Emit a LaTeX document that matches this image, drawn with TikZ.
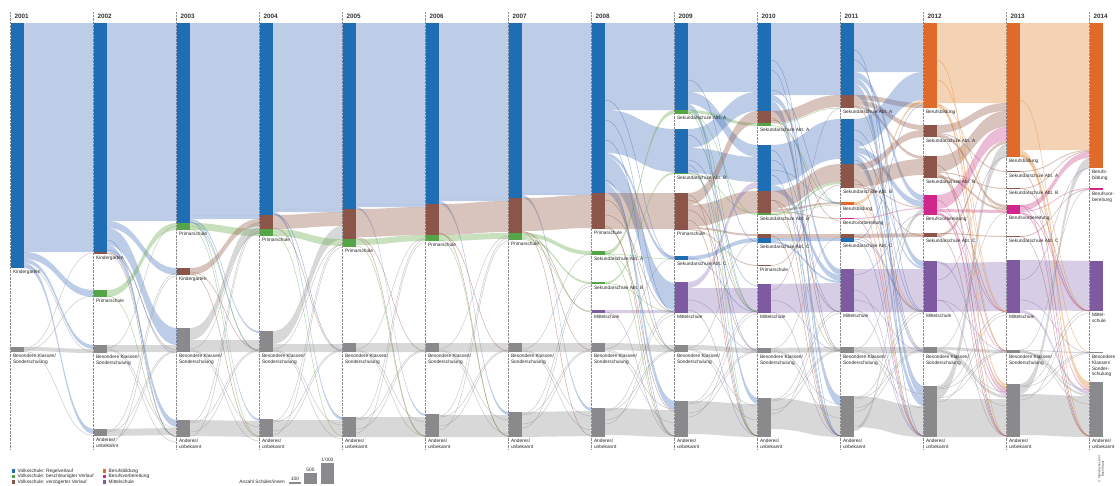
\documentclass[tikz,border=0pt]{standalone}
\usepackage{fontspec}
\setmainfont{Liberation Sans}
\definecolor{colB}{HTML}{1F6EB4}
\definecolor{colG}{HTML}{55A548}
\definecolor{colR}{HTML}{8B5549}
\definecolor{colY}{HTML}{8A8A8C}
\definecolor{colO}{HTML}{E06A29}
\definecolor{colM}{HTML}{D1278A}
\definecolor{colP}{HTML}{7E5AA0}
\definecolor{bndB}{HTML}{4270BD}
\definecolor{bndG}{HTML}{62A945}
\definecolor{bndR}{HTML}{925640}
\definecolor{bndY}{HTML}{909090}
\definecolor{bndO}{HTML}{E2812C}
\definecolor{bndP}{HTML}{8D70B2}
\definecolor{bndM}{HTML}{C9408A}
\tikzset{
  lbl/.style={font=\fontsize{4.8}{5.6}\selectfont, inner sep=0pt, anchor=north west, align=left, text=black!85},
  yearlbl/.style={font=\fontsize{6.3}{7}\selectfont\bfseries, inner sep=0pt, anchor=west, text=black!80},
  guide/.style={black!45, line width=0.45pt, dash pattern=on 0.7pt off 0.7pt},
  bandfill/.style={fill opacity=.35},
  thinline/.style={line width=.45pt, opacity=.5},
  leglbl/.style={font=\fontsize{4.8}{5.6}\selectfont, inner sep=0pt, anchor=west, text=black!85}
}
\newcommand{\bnd}[6]{%
  \pgfmathsetmacro{\xa}{24+83*#1}%
  \pgfmathsetmacro{\xb}{94+83*#1}%
  \pgfmathsetmacro{\xm}{59+83*#1}%
  \fill[#6,bandfill] (\xa,#2) .. controls (\xm,#2) and (\xm,#4) .. (\xb,#4) -- (\xb,#5) .. controls (\xm,#5) and (\xm,#3) .. (\xa,#3) -- cycle;}
\newcommand{\thn}[4]{%
  \pgfmathsetmacro{\xa}{24+83*#1}%
  \pgfmathsetmacro{\xb}{94+83*#1}%
  \pgfmathsetmacro{\xm}{59+83*#1}%
  \draw[#4,thinline] (\xa,#2) .. controls (\xm,#2) and (\xm,#3) .. (\xb,#3);}
\newcommand{\cbar}[4]{%
  \pgfmathsetmacro{\xa}{11+83*#1}%
  \pgfmathsetmacro{\xe}{24+83*#1}%
  \fill[#4] (\xa,#2) rectangle (\xe,#3);}
\newcommand{\lab}[3]{%
  \pgfmathsetmacro{\xa}{12.8+83*#1}%
  \node[lbl] at (\xa,#2+2.2) {#3};}
\newcommand{\xl}[7]{%
  \thn{#1}{#2}{#5+8}{bndY}%
  \thn{#1}{#2+1}{#5+22}{bndY}%
  \thn{#1}{#3+3}{#4}{bndY}%
  \thn{#1}{#3+12}{#4+1}{bndY}%
  \thn{#1}{#2-1}{#6}{bndY}%
  \thn{#1}{#3+2}{#7}{bndY}%
  \thn{#1}{#3+16}{#7+3}{bndY}%
}
\begin{document}
\begin{tikzpicture}[x=1pt,y=-1pt]
\fill[white] (0,0) rectangle (1120,485);
\useasboundingbox (0,0) rectangle (1120,485);
% guides and years
\foreach \i/\yr in {0/2001,1/2002,2/2003,3/2004,4/2005,5/2006,6/2007,7/2008,8/2009,9/2010,10/2011,11/2012,12/2013,13/2014}{
  \draw[guide] (10.6+83*\i,12) -- (10.6+83*\i,449);
  \node[yearlbl] (y\yr) at (14.5+83*\i,16.3) {\yr};
}
% ---------- pair 0
\bnd{0}{23}{252}{23}{252}{bndB}
\bnd{0}{252}{259}{290}{297}{bndB}
\bnd{0}{259}{263}{345}{349}{bndB}
\bnd{0}{263}{268}{429}{434}{bndB}
\bnd{0}{347}{351}{349}{353}{bndY}
\thn{0}{351.5}{435.5}{bndY}
\thn{0}{348}{253}{bndY}
\thn{0}{266}{352}{bndY}
\thn{0}{350}{296}{bndY}
% ---------- pair 1
\bnd{1}{23}{221}{23}{221}{bndB}
\bnd{1}{221}{228}{268}{275}{bndB}
\bnd{1}{228}{245}{328}{345}{bndB}
\bnd{1}{245}{252}{420}{427}{bndB}
\bnd{1}{290}{297}{223}{230}{bndG}
\bnd{1}{345}{352}{345}{352}{bndY}
\bnd{1}{429}{436}{428}{435}{bndY}
\thn{1}{296}{436}{bndG}
\thn{1}{253}{350}{bndR}
\thn{1}{253.5}{436.5}{bndR}
\thn{1}{240}{437}{bndB}
\thn{1}{250}{353}{bndB}
\xl{1}{349}{429}{351}{420}{226}{273}
% ---------- pair 2
\bnd{2}{23}{215}{23}{215}{bndB}
\bnd{2}{215}{219}{215}{219}{bndB}
\bnd{2}{219}{221}{331}{333}{bndB}
\bnd{2}{221}{223}{419}{421}{bndB}
\bnd{2}{223}{230}{229}{236}{bndG}
\bnd{2}{268}{275}{219}{226}{bndR}
\bnd{2}{328}{340}{222}{234}{bndY}
\bnd{2}{340}{352}{340}{352}{bndY}
\bnd{2}{420}{436}{421}{437}{bndY}
\thn{2}{229}{436}{bndG}
\thn{2}{274}{437}{bndR}
\thn{2}{272}{350}{bndR}
\thn{2}{222}{351}{bndB}
\thn{2}{226}{350}{bndG}
\xl{2}{350}{420}{350}{419}{233}{228}
% ---------- pair 3
\bnd{3}{23}{209}{23}{209}{bndB}
\bnd{3}{209}{212}{209}{212}{bndB}
\bnd{3}{212}{215}{417}{420}{bndB}
\bnd{3}{215}{229}{212}{226}{bndR}
\bnd{3}{331}{344}{226}{239}{bndY}
\bnd{3}{229}{236}{239}{246}{bndG}
\bnd{3}{344}{352}{344}{352}{bndY}
\bnd{3}{420}{437}{420}{437}{bndY}
\thn{3}{228}{351}{bndR}
\thn{3}{235}{436}{bndG}
\thn{3}{214}{350}{bndB}
\xl{3}{350}{419}{350}{417}{245}{244}
% ---------- pair 4
\bnd{4}{23}{204}{23}{204}{bndB}
\bnd{4}{204}{207}{204}{207}{bndB}
\bnd{4}{207}{209}{414}{416}{bndB}
\bnd{4}{209}{237}{207}{235}{bndR}
\bnd{4}{239}{245}{235}{241}{bndG}
\bnd{4}{343}{352}{343}{352}{bndY}
\bnd{4}{417}{437}{417}{437}{bndY}
\thn{4}{237.5}{351}{bndR}
\thn{4}{238.5}{436}{bndR}
\thn{4}{246}{436.5}{bndG}
\xl{4}{350}{417}{350}{414}{238}{239}
% ---------- pair 5
\bnd{5}{23}{198}{23}{198}{bndB}
\bnd{5}{198}{201}{198}{201}{bndB}
\bnd{5}{201}{204}{412}{415}{bndB}
\bnd{5}{204}{235}{201}{232}{bndR}
\bnd{5}{235}{241}{233}{239}{bndG}
\bnd{5}{343}{352}{343}{352}{bndY}
\bnd{5}{415}{437}{415}{437}{bndY}
\thn{5}{234}{351}{bndR}
\thn{5}{240}{436}{bndG}
\thn{5}{233}{436.5}{bndR}
\xl{5}{350}{414}{350}{412}{236}{238}
% ---------- pair 6
\bnd{6}{23}{193}{23}{193}{bndB}
\bnd{6}{193}{195}{193}{195}{bndB}
\bnd{6}{195}{198}{408}{411}{bndB}
\bnd{6}{198}{231}{195}{228}{bndR}
\bnd{6}{233}{237}{251}{255}{bndG}
\bnd{6}{237}{239}{282}{284}{bndG}
\bnd{6}{343}{352}{343}{352}{bndY}
\bnd{6}{412}{437}{411}{436}{bndY}
\thn{6}{239.5}{311}{bndG}
\thn{6}{232}{312}{bndR}
\thn{6}{231.5}{350}{bndR}
\thn{6}{232.5}{436}{bndR}
\xl{6}{350}{412}{350}{408}{254}{283}
% ---------- pair 7
\bnd{7}{23}{110}{23}{110}{bndB}
\bnd{7}{110}{153}{129}{172}{bndB}
\bnd{7}{153}{157}{256}{260}{bndB}
\bnd{7}{157}{184}{283}{310}{bndB}
\bnd{7}{184}{193}{401}{410}{bndB}
\bnd{7}{193}{229}{193}{229}{bndR}
\bnd{7}{251}{255}{110}{114}{bndG}
\bnd{7}{282}{284}{172}{174}{bndG}
\bnd{7}{310}{313}{310}{313}{bndP}
\bnd{7}{343}{350}{345}{352}{bndY}
\bnd{7}{408}{435}{410}{437}{bndY}
\thn{7}{200}{350}{bndR}
\thn{7}{215}{312}{bndR}
\thn{7}{226}{436}{bndR}
\thn{7}{228}{411}{bndR}
\thn{7}{254}{259}{bndG}
\thn{7}{283.5}{312}{bndG}
\thn{7}{120}{312}{bndB}
\thn{7}{140}{351}{bndB}
\thn{7}{100}{258}{bndB}
\thn{7}{180}{436}{bndB}
\thn{7}{253}{351}{bndG}
\thn{7}{254.5}{436}{bndG}
\thn{7}{312}{436}{bndP}
\xl{7}{350}{408}{350}{401}{258}{312}
% ---------- pair 8
\bnd{8}{23}{92}{23}{92}{bndB}
\bnd{8}{92}{104}{145}{157}{bndB}
\bnd{8}{104}{110}{398}{404}{bndB}
\bnd{8}{110}{113}{123}{126}{bndG}
\bnd{8}{129}{148}{92}{111}{bndB}
\bnd{8}{148}{173}{157}{182}{bndB}
\bnd{8}{173}{174}{213}{214}{bndG}
\bnd{8}{193}{205}{111}{123}{bndR}
\bnd{8}{205}{227}{191}{213}{bndR}
\bnd{8}{227}{229}{234}{236}{bndR}
\bnd{8}{229}{230}{265}{266}{bndR}
\bnd{8}{256}{260}{238}{242}{bndB}
\bnd{8}{282}{288}{182}{188}{bndP}
\bnd{8}{288}{313}{288}{313}{bndP}
\bnd{8}{345}{350}{348}{353}{bndY}
\bnd{8}{401}{434}{404}{437}{bndY}
\thn{8}{113.5}{215}{bndG}
\thn{8}{112}{312}{bndG}
\thn{8}{160}{286}{bndB}
\thn{8}{170}{351}{bndB}
\thn{8}{165}{436}{bndB}
\thn{8}{210}{350}{bndR}
\thn{8}{220}{436}{bndR}
\thn{8}{200}{311}{bndR}
\thn{8}{258}{312}{bndB}
\thn{8}{300}{351}{bndP}
\thn{8}{310}{436}{bndP}
\thn{8}{80}{242}{bndB}
\thn{8}{135}{312}{bndB}
\thn{8}{113}{436}{bndG}
\thn{8}{173.5}{312}{bndG}
\thn{8}{195}{436}{bndR}
\xl{8}{349}{401}{351}{398}{240}{311}
% ---------- pair 9
\bnd{9}{23}{95}{23}{95}{bndB}
\bnd{9}{95}{101}{269}{275}{bndB}
\bnd{9}{101}{111}{396}{406}{bndB}
\bnd{9}{111}{123}{95}{107}{bndR}
\bnd{9}{145}{185}{119}{159}{bndB}
\bnd{9}{185}{191}{275}{281}{bndB}
\bnd{9}{191}{209}{164}{182}{bndR}
\bnd{9}{209}{211}{202}{204}{bndR}
\bnd{9}{211}{212}{218}{219}{bndR}
\bnd{9}{213}{215}{182}{184}{bndG}
\bnd{9}{234}{238}{234}{238}{bndR}
\bnd{9}{238}{241}{238}{241}{bndB}
\bnd{9}{241}{243}{281}{283}{bndB}
\bnd{9}{284}{313}{283}{312}{bndP}
\bnd{9}{348}{353}{347}{352}{bndY}
\bnd{9}{398}{429}{406}{437}{bndY}
\thn{9}{124}{108}{bndG}
\thn{9}{125.5}{204}{bndG}
\thn{9}{265.5}{185}{bndR}
\thn{9}{118}{351}{bndR}
\thn{9}{200}{436}{bndR}
\thn{9}{120}{221}{bndR}
\thn{9}{60}{350}{bndB}
\thn{9}{150}{436}{bndB}
\thn{9}{170}{203}{bndB}
\thn{9}{90}{204}{bndB}
\thn{9}{300}{351}{bndP}
\thn{9}{312}{436}{bndP}
\thn{9}{214}{351}{bndG}
\thn{9}{70}{436}{bndB}
\thn{9}{160}{312}{bndB}
\thn{9}{175}{436}{bndB}
\thn{9}{200}{312}{bndR}
\thn{9}{236}{436}{bndR}
\thn{9}{214.5}{205}{bndG}
\thn{9}{290}{108}{bndP}
\xl{9}{350}{398}{350}{396}{237}{310}
% ---------- pair 10
\bnd{10}{23}{72}{23}{72}{bndB}
\bnd{10}{72}{78}{195}{201}{bndB}
\bnd{10}{78}{84}{261}{267}{bndB}
\bnd{10}{84}{95}{386}{397}{bndB}
\bnd{10}{95}{100}{103}{108}{bndR}
\bnd{10}{100}{105}{125}{130}{bndR}
\bnd{10}{105}{108}{156}{159}{bndR}
\bnd{10}{119}{147}{72}{100}{bndB}
\bnd{10}{147}{153}{201}{207}{bndB}
\bnd{10}{153}{155}{267}{269}{bndB}
\bnd{10}{155}{164}{397}{406}{bndB}
\bnd{10}{164}{171}{130}{137}{bndR}
\bnd{10}{171}{187}{159}{175}{bndR}
\bnd{10}{187}{188}{207}{208}{bndR}
\bnd{10}{202}{205}{100}{103}{bndO}
\bnd{10}{218}{219}{208}{209}{bndM}
\bnd{10}{234}{238}{233}{237}{bndR}
\bnd{10}{269}{312}{269}{312}{bndP}
\bnd{10}{347}{353}{347}{353}{bndY}
\bnd{10}{396}{427}{406}{437}{bndY}
\bnd{10}{427}{431}{209}{213}{bndY}
\thn{10}{239}{312}{bndB}
\thn{10}{241}{436}{bndB}
\thn{10}{240}{105}{bndB}
\thn{10}{204}{436}{bndO}
\thn{10}{203}{312}{bndO}
\thn{10}{218.5}{436.5}{bndM}
\thn{10}{106}{350}{bndR}
\thn{10}{180}{436}{bndR}
\thn{10}{184}{236}{bndR}
\thn{10}{300}{351}{bndP}
\thn{10}{310}{436}{bndP}
\thn{10}{60}{311}{bndB}
\thn{10}{140}{351}{bndB}
\thn{10}{50}{436}{bndB}
\thn{10}{130}{312}{bndB}
\thn{10}{160}{352}{bndB}
\thn{10}{236}{311}{bndR}
\thn{10}{290}{436}{bndP}
\thn{10}{275}{214}{bndP}
\xl{10}{350}{396}{350}{386}{214}{310}
% ---------- pair 11
\bnd{11}{23}{103}{23}{103}{bndO}
\bnd{11}{103}{106}{384}{387}{bndO}
\bnd{11}{125}{133}{103}{111}{bndR}
\bnd{11}{133}{134}{171}{172}{bndR}
\bnd{11}{134}{137}{205}{208}{bndR}
\bnd{11}{156}{172}{111}{127}{bndR}
\bnd{11}{172}{173}{188}{189}{bndR}
\bnd{11}{173}{176}{387}{390}{bndR}
\bnd{11}{176}{178}{208}{210}{bndR}
\bnd{11}{195}{209}{127}{141}{bndM}
\bnd{11}{209}{212}{210}{213}{bndM}
\bnd{11}{212}{215}{390}{393}{bndM}
\bnd{11}{233}{234}{236}{237}{bndR}
\bnd{11}{234}{237}{141}{144}{bndR}
\bnd{11}{261}{263}{393}{395}{bndP}
\bnd{11}{263}{312}{262}{311}{bndP}
\bnd{11}{347}{350}{350}{353}{bndY}
\bnd{11}{350}{353}{395}{398}{bndY}
\bnd{11}{386}{399}{144}{157}{bndY}
\bnd{11}{399}{437}{399}{437}{bndY}
\thn{11}{106.5}{312}{bndO}
\thn{11}{107.5}{351}{bndO}
\thn{11}{105}{213}{bndO}
\thn{11}{136}{351}{bndR}
\thn{11}{177}{312}{bndR}
\thn{11}{214}{351}{bndM}
\thn{11}{210}{312}{bndM}
\thn{11}{236}{436}{bndR}
\thn{11}{300}{351}{bndP}
\thn{11}{80}{311}{bndO}
\thn{11}{60}{436}{bndO}
\thn{11}{200}{436}{bndM}
\thn{11}{165}{436}{bndR}
\thn{11}{300}{436}{bndP}
\thn{11}{280}{157}{bndP}
\xl{11}{350}{386}{351}{384}{213}{312}
% ---------- pair 12
\bnd{12}{23}{150}{23}{150}{bndO}
\bnd{12}{150}{157}{382}{389}{bndO}
\bnd{12}{171}{172}{150}{151}{bndR}
\bnd{12}{188}{189}{151}{152}{bndR}
\bnd{12}{205}{211}{152}{158}{bndM}
\bnd{12}{211}{212}{188}{189}{bndM}
\bnd{12}{212}{214}{389}{391}{bndM}
\bnd{12}{236}{237}{189}{190}{bndR}
\bnd{12}{260}{310}{261}{311}{bndP}
\bnd{12}{310}{313}{391}{394}{bndP}
\bnd{12}{350}{351}{352}{353}{bndY}
\bnd{12}{351}{353}{394}{396}{bndY}
\bnd{12}{384}{394}{158}{168}{bndY}
\bnd{12}{394}{435}{396}{437}{bndY}
\thn{12}{155}{311}{bndO}
\thn{12}{156}{352}{bndO}
\thn{12}{213}{311}{bndM}
\thn{12}{171.5}{436}{bndR}
\thn{12}{188.5}{311}{bndR}
\thn{12}{236.5}{436}{bndR}
\thn{12}{300}{352.5}{bndP}
\thn{12}{100}{436}{bndO}
\thn{12}{206}{436}{bndM}
\thn{12}{280}{168}{bndP}
\thn{12}{205.5}{311}{bndM}
\xl{12}{351}{384}{352.5}{382}{189}{310}
% ---------- bars
\cbar{0}{23}{268}{colB} \cbar{0}{347}{352}{colY}
\cbar{1}{23}{252}{colB} \cbar{1}{252}{254}{colR} \cbar{1}{290}{297}{colG} \cbar{1}{345}{353}{colY} \cbar{1}{429}{436}{colY}
\cbar{2}{23}{223}{colB} \cbar{2}{223}{230}{colG} \cbar{2}{268}{275}{colR} \cbar{2}{328}{352}{colY} \cbar{2}{420}{437}{colY}
\cbar{3}{23}{215}{colB} \cbar{3}{215}{229}{colR} \cbar{3}{229}{236}{colG} \cbar{3}{331}{352}{colY} \cbar{3}{419}{437}{colY}
\cbar{4}{23}{209}{colB} \cbar{4}{209}{239}{colR} \cbar{4}{239}{247}{colG} \cbar{4}{343}{352}{colY} \cbar{4}{417}{437}{colY}
\cbar{5}{23}{204}{colB} \cbar{5}{204}{235}{colR} \cbar{5}{235}{241}{colG} \cbar{5}{343}{352}{colY} \cbar{5}{414}{437}{colY}
\cbar{6}{23}{198}{colB} \cbar{6}{198}{233}{colR} \cbar{6}{233}{240}{colG} \cbar{6}{343}{352}{colY} \cbar{6}{412}{437}{colY}
\cbar{7}{23}{193}{colB} \cbar{7}{193}{229}{colR} \cbar{7}{251}{255}{colG} \cbar{7}{282}{284}{colG} \cbar{7}{310}{313}{colP} \cbar{7}{343}{352}{colY} \cbar{7}{408}{437}{colY}
\cbar{8}{23}{110}{colB} \cbar{8}{110}{114}{colG} \cbar{8}{129}{173}{colB} \cbar{8}{173}{174.2}{colG} \cbar{8}{193}{230}{colR} \cbar{8}{256}{260}{colB} \cbar{8}{282}{313}{colP} \cbar{8}{345}{352}{colY} \cbar{8}{401}{437}{colY}
\cbar{9}{23}{111}{colB} \cbar{9}{111}{123}{colR} \cbar{9}{123}{126}{colG} \cbar{9}{145}{191}{colB} \cbar{9}{191}{213}{colR} \cbar{9}{213}{215}{colG} \cbar{9}{234}{238}{colR} \cbar{9}{238}{243}{colB} \cbar{9}{265}{266}{colR} \cbar{9}{284}{313}{colP} \cbar{9}{348}{353}{colY} \cbar{9}{398}{437}{colY}
\cbar{10}{23}{95}{colB} \cbar{10}{95}{108}{colR} \cbar{10}{119}{164}{colB} \cbar{10}{164}{188}{colR} \cbar{10}{202}{205}{colO} \cbar{10}{218}{219.2}{colM} \cbar{10}{234}{238}{colR} \cbar{10}{238}{242}{colB} \cbar{10}{269}{312}{colP} \cbar{10}{347}{353}{colY} \cbar{10}{396}{437}{colY}
\cbar{11}{23}{108}{colO} \cbar{11}{125}{137}{colR} \cbar{11}{156}{178}{colR} \cbar{11}{195}{215}{colM} \cbar{11}{233}{237}{colR} \cbar{11}{261}{312}{colP} \cbar{11}{347}{353}{colY} \cbar{11}{386}{437}{colY}
\cbar{12}{23}{157}{colO} \cbar{12}{171}{172.2}{colR} \cbar{12}{188}{189.2}{colR} \cbar{12}{205}{214}{colM} \cbar{12}{236}{237.2}{colR} \cbar{12}{260}{313}{colP} \cbar{12}{350}{353}{colY} \cbar{12}{384}{437}{colY}
\cbar{13}{23}{168}{colO} \cbar{13}{188}{190}{colM} \cbar{13}{261}{311}{colP} \cbar{13}{352}{353.2}{colY} \cbar{13}{382}{437}{colY}
% ---------- labels
\def\BK{Besondere Klassen/\\Sonderschulung}
\def\AU{Anderes/\\unbekannt}
\lab{0}{268}{Kindergarten} \lab{0}{352}{\BK}
\lab{1}{254}{Kindergarten} \lab{1}{297}{Primarschule} \lab{1}{353}{\BK} \lab{1}{436}{\AU}
\lab{2}{230}{Primarschule} \lab{2}{275}{Kindergarten} \lab{2}{352}{\BK} \lab{2}{437}{\AU}
\lab{3}{236}{Primarschule} \lab{3}{352}{\BK} \lab{3}{437}{\AU}
\lab{4}{247}{Primarschule} \lab{4}{352}{\BK} \lab{4}{437}{\AU}
\lab{5}{241}{Primarschule} \lab{5}{352}{\BK} \lab{5}{437}{\AU}
\lab{6}{240}{Primarschule} \lab{6}{352}{\BK} \lab{6}{437}{\AU}
\lab{7}{229}{Primarschule} \lab{7}{255}{Sekundarschule Abt. A} \lab{7}{284}{Sekundarschule Abt. B} \lab{7}{313}{Mittelschule} \lab{7}{352}{\BK} \lab{7}{437}{\AU}
\lab{8}{114}{Sekundarschule Abt. A} \lab{8}{174}{Sekundarschule Abt. B} \lab{8}{230}{Primarschule} \lab{8}{260}{Sekundarschule Abt. C} \lab{8}{313}{Mittelschule} \lab{8}{352}{\BK} \lab{8}{437}{\AU}
\lab{9}{126}{Sekundarschule Abt. A} \lab{9}{215}{Sekundarschule Abt. B} \lab{9}{243}{Sekundarschule Abt. C} \lab{9}{266}{Primarschule} \lab{9}{313}{Mittelschule} \lab{9}{353}{\BK} \lab{9}{437}{\AU}
\lab{10}{108}{Sekundarschule Abt. A} \lab{10}{188}{Sekundarschule Abt. B} \lab{10}{205}{Berufsbildung} \lab{10}{219}{Berufsvorbereitung} \lab{10}{242}{Sekundarschule Abt. C} \lab{10}{312}{Mittelschule} \lab{10}{353}{\BK} \lab{10}{437}{\AU}
\lab{11}{108}{Berufsbildung} \lab{11}{137}{Sekundarschule Abt. A} \lab{11}{178}{Sekundarschule Abt. B} \lab{11}{215}{Berufsvorbereitung} \lab{11}{237}{Sekundarschule Abt. C} \lab{11}{312}{Mittelschule} \lab{11}{353}{\BK} \lab{11}{437}{\AU}
\lab{12}{157}{Berufsbildung} \lab{12}{172}{Sekundarschule Abt. A} \lab{12}{189}{Sekundarschule Abt. B} \lab{12}{214}{Berufsvorbereitung} \lab{12}{237}{Sekundarschule Abt. C} \lab{12}{313}{Mittelschule} \lab{12}{353}{\BK} \lab{12}{437}{\AU}
\lab{13}{168}{Berufs-\\bildung} \lab{13}{190}{Berufsvor-\\bereitung} \lab{13}{311}{Mittel-\\schule} \lab{13}{353}{Besondere\\Klassen/\\Sonder-\\schulung} \lab{13}{437}{\AU}
% ---------- legend
\fill[colB] (12,469.3) rectangle +(3.4,3.4); \node[leglbl] (lg1) at (17.5,471) {Volksschule: Regelverlauf};
\fill[colG] (12,474.8) rectangle +(3.4,3.4); \node[leglbl] (lg2) at (17.5,476.5) {Volksschule: beschleunigter Verlauf};
\fill[colR] (12,480.3) rectangle +(3.4,3.4); \node[leglbl] (lg3) at (17.5,482) {Volksschule: verzögerter Verlauf};
\fill[colO] (103,469.3) rectangle +(3.4,3.4); \node[leglbl] (lg4) at (108.5,471) {Berufsbildung};
\fill[colM] (103,474.8) rectangle +(3.4,3.4); \node[leglbl] (lg5) at (108.5,476.5) {Berufsvorbereitung};
\fill[colP] (103,480.3) rectangle +(3.4,3.4); \node[leglbl] (lg6) at (108.5,482) {Mittelschule};
% scale
\node[leglbl,anchor=east] (sc0) at (285,482) {Anzahl Schüler/innen};
\fill[colY] (289,482.2) rectangle (301,484);
\fill[colY] (304,473) rectangle (317,484);
\fill[colY] (321,463) rectangle (334,484);
\node[lbl,anchor=south] (sc1) at (295,480.5) {100};
\node[lbl,anchor=south] (sc2) at (310.5,471.5) {500};
\node[lbl,anchor=south] (sc3) at (327.5,461.5) {1'000};
\node[font=\fontsize{3}{3.4}\selectfont, inner sep=0pt, rotate=90, anchor=center, text=black!80, align=center] (crd) at (1101,469) {© Statistisches Amt\\Basel-Stadt};
\end{tikzpicture}
\end{document}
